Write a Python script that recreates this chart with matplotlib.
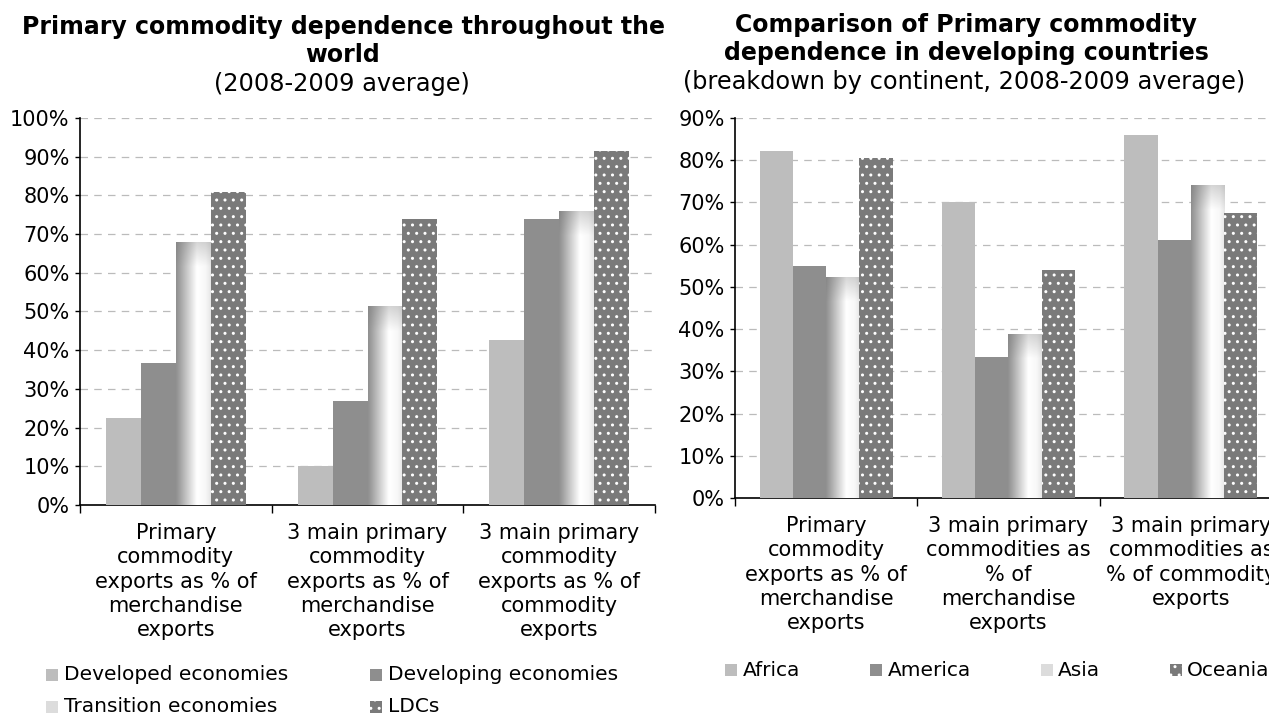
import numpy as np
import matplotlib
matplotlib.use("Agg")
import matplotlib.pyplot as plt
from matplotlib.patches import Rectangle
from matplotlib.ticker import FuncFormatter

# ---------------- data ----------------
left_categories = ["Primary\ncommodity\nexports as % of\nmerchandise\nexports",
                   "3 main primary\ncommodity\nexports as % of\nmerchandise\nexports",
                   "3 main primary\ncommodity\nexports as % of\ncommodity\nexports"]
left_series = ["Developed economies", "Developing economies", "Transition economies", "LDCs"]
developed = [22.5, 10.0, 42.6]
developing = [36.7, 27.0, 73.9]
transition = [68.0, 51.4, 76.0]
ldcs = [80.9, 73.9, 91.5]

right_categories = ["Primary\ncommodity\nexports as % of\nmerchandise\nexports",
                    "3 main primary\ncommodities as\n% of\nmerchandise\nexports",
                    "3 main primary\ncommodities as\n% of commodity\nexports"]
right_series = ["Africa", "America", "Asia", "Oceania"]
africa = [82.2, 70.0, 86.0]
america = [55.0, 33.4, 61.1]
asia = [52.4, 38.9, 74.2]
oceania = [80.5, 54.0, 67.5]

# ---------------- style ----------------
C_LIGHT = "#bdbdbd"
C_MID = "#8e8e8e"
C_DOT = "#7a7a7a"
FS = 15
W, H = 1269, 715

fig = plt.figure(figsize=(W / 100, H / 100), dpi=100)


def gradient_img(top_frac):
    n = 240
    xs = np.linspace(0, 1, n)
    prof = np.interp(xs, [0, 0.12, 0.6, 0.85, 1.0], [0.56, 0.64, 1.0, 0.97, 0.9])
    img = np.tile(prof, (n, 1))
    ys = np.linspace(0, 1, n)[:, None]  # 0 bottom, 1 top (origin lower)
    d = (1 - ys) / max(top_frac, 1e-3)
    blend = np.clip(1 - d, 0, 1) * 0.3
    img = img * (1 - blend) + 0.45 * blend
    return img


def draw_panel(ax, cats, series_vals, ymax, ystep, ax_h_px):
    n = len(cats)
    w = 0.182
    offs = (np.arange(4) - 1.5) * w
    x = np.arange(n)
    styles = ["light", "mid", "grad", "dot"]
    for i, vals in enumerate(series_vals):
        vals = np.asarray(vals) / 100.0
        st = styles[i]
        if st == "light":
            ax.bar(x + offs[i], vals, w, color=C_LIGHT, linewidth=0, zorder=3)
        elif st == "mid":
            ax.bar(x + offs[i], vals, w, color=C_MID, linewidth=0, zorder=3)
        elif st == "dot":
            ax.bar(x + offs[i], vals, w, facecolor=C_DOT, edgecolor="white",
                   hatch="..", linewidth=0, zorder=3)
        else:
            bars = ax.bar(x + offs[i], vals, w, facecolor="none", linewidth=0, zorder=3)
            for b in bars:
                bx, bw, bh = b.get_x(), b.get_width(), b.get_height()
                px_h = bh / ymax * ax_h_px
                im = ax.imshow(gradient_img(25.0 / px_h), cmap="gray", vmin=0, vmax=1,
                               extent=[bx, bx + bw, 0, bh], aspect="auto",
                               origin="lower", zorder=3, interpolation="bilinear")
                im.set_clip_path(b)
    ax.set_xlim(-0.5, n - 0.5)
    ax.set_ylim(0, ymax)
    ax.set_yticks(np.arange(0, ymax + 1e-9, ystep))
    ax.yaxis.set_major_formatter(FuncFormatter(lambda v, p: f"{v*100:.0f}%"))
    ax.set_xticks(x)
    ax.set_xticklabels(cats, fontsize=FS, linespacing=1.27)
    ax.tick_params(axis="x", which="major", length=0, pad=13)
    ax.set_xticks(np.arange(-0.5, n, 1.0), minor=True)
    ax.tick_params(axis="x", which="minor", length=6, width=1, direction="out")
    ax.tick_params(axis="y", labelsize=FS, length=3.5, width=1, pad=4)
    ax.yaxis.grid(True, linestyle=(0, (6, 5)), color="#bbbbbb", linewidth=0.9, zorder=0)
    ax.set_axisbelow(True)
    for s in ["top", "right"]:
        ax.spines[s].set_visible(False)
    for s in ["left", "bottom"]:
        ax.spines[s].set_color("black")
        ax.spines[s].set_linewidth(1.2)


# left panel
axL = fig.add_axes([80 / W, 1 - 505 / H, 575 / W, (505 - 118) / H])
draw_panel(axL, left_categories, [developed, developing, transition, ldcs], 1.0, 0.1, 505 - 118)
# right panel
axR = fig.add_axes([735 / W, 1 - 498 / H, 547 / W, (498 - 118) / H])
draw_panel(axR, right_categories, [africa, america, asia, oceania], 0.9, 0.1, 498 - 118)


def ftext(x, y, s, **kw):
    fig.text(x / W, 1 - y / H, s, ha="center", va="center", **kw)


# titles
ftext(343, 27, "Primary commodity dependence throughout the", fontsize=17, fontweight="bold")
ftext(343, 55, "world", fontsize=17, fontweight="bold")
ftext(342, 84, "(2008-2009 average)", fontsize=17.3)
ftext(966, 25, "Comparison of Primary commodity", fontsize=17, fontweight="bold")
ftext(966, 53, "dependence in developing countries", fontsize=17, fontweight="bold")
ftext(964, 82, "(breakdown by continent, 2008-2009 average)", fontsize=17.3)

# legends (manually placed entries)
styles = [dict(facecolor=C_LIGHT), dict(facecolor=C_MID),
          dict(facecolor="#dcdcdc"), dict(facecolor=C_DOT, hatch="..", edgecolor="white")]


def legend_entry(mx, tx, y, label, st, size=12):
    r = Rectangle((mx / W, 1 - (y + size / 2) / H), size / W, size / H,
                  transform=fig.transFigure, linewidth=0, **st)
    fig.patches.append(r)
    fig.text(tx / W, 1 - y / H, label, ha="left", va="center", fontsize=14.5)


left_pos = [(46, 64, 675), (370, 388, 675), (46, 64, 707), (370, 388, 707)]
for (mx, tx, y), lab, st in zip(left_pos, left_series, styles):
    legend_entry(mx, tx, y, lab, st)

right_pos = [(725, 743, 670), (870, 888, 670), (1041, 1058, 670), (1170, 1187, 670)]
for (mx, tx, y), lab, st in zip(right_pos, right_series, styles):
    legend_entry(mx, tx, y, lab, st)

fig.savefig("out.png", dpi=100, facecolor="white")
